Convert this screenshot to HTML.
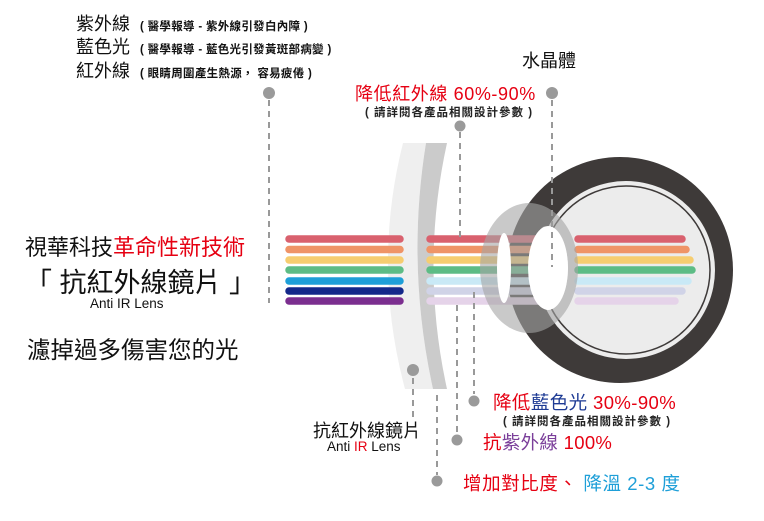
<!DOCTYPE html>
<html><head><meta charset="utf-8"><style>
html,body{margin:0;padding:0;background:#fff;}
svg{display:block;font-family:"Liberation Sans","Noto Sans CJK TC",sans-serif;}
</style></head><body>
<svg width="764" height="521" viewBox="0 0 764 521" xmlns="http://www.w3.org/2000/svg">
<!-- eye -->
<circle cx="620" cy="270" r="113" fill="#3e3a39"/>
<circle cx="626" cy="270" r="89" fill="#ececec"/>
<circle cx="626" cy="270" r="84" fill="none" stroke="#3e3a39" stroke-width="1.5"/>
<!-- lens -->
<path d="M403,143 L426,143 Q406,266 433,389 L405,389 Q372,266 403,143 Z" fill="#efefef"/>
<path d="M426,143 L447,143 Q420,266 447,389 L433,389 Q406,266 426,143 Z" fill="#cbcbcb"/>
<!-- bars -->
<g stroke-linecap="round" stroke-width="7.5">
<g stroke="#d9616e"><line x1="289" y1="239" x2="400" y2="239"/><line x1="430" y1="239" x2="540" y2="239"/><line x1="578" y1="239" x2="682" y2="239"/></g>
<g stroke="#ef9467"><line x1="289" y1="249.5" x2="400" y2="249.5"/><line x1="430" y1="249.5" x2="540" y2="249.5"/><line x1="578" y1="249.5" x2="686" y2="249.5"/></g>
<g stroke="#f6cd70"><line x1="289" y1="260" x2="400" y2="260"/><line x1="430" y1="260" x2="540" y2="260"/><line x1="578" y1="260" x2="690" y2="260"/></g>
<g stroke="#5dbc85"><line x1="289" y1="270" x2="400" y2="270"/><line x1="430" y1="270" x2="540" y2="270"/><line x1="578" y1="270" x2="692" y2="270"/></g>
<g stroke="#1e9fd8"><line x1="289" y1="281" x2="400" y2="281"/></g>
<g stroke="#c9e9f6"><line x1="430" y1="281" x2="540" y2="281"/><line x1="578" y1="281" x2="688" y2="281"/></g>
<g stroke="#14288a"><line x1="289" y1="291" x2="400" y2="291"/></g>
<g stroke="#d0d3e7"><line x1="430" y1="291" x2="540" y2="291"/><line x1="578" y1="291" x2="682" y2="291"/></g>
<g stroke="#7b2e8f"><line x1="289" y1="301" x2="400" y2="301"/></g>
<g stroke="#e5d3e9"><line x1="430" y1="301" x2="540" y2="301"/><line x1="578" y1="301" x2="675" y2="301"/></g>
</g>
<!-- crystalline ring -->
<path fill-rule="evenodd" fill="rgba(165,165,165,0.6)" d="M529,203 a49,65 0 1,0 0.1,0 Z M548,226 a20,42 0 1,1 -0.1,0 Z"/>
<ellipse cx="548" cy="268" rx="20" ry="42" fill="#fff"/>
<ellipse cx="504" cy="268" rx="7" ry="35" fill="#fff"/>
<!-- dashed lines -->
<g stroke="#999" stroke-width="2" stroke-dasharray="6 5" fill="none">
<line x1="269" y1="100" x2="269" y2="303"/>
<line x1="460" y1="132" x2="460" y2="237"/>
<line x1="552" y1="100" x2="552" y2="267"/>
<line x1="413" y1="378" x2="413" y2="418"/>
<line x1="437" y1="395" x2="437" y2="475"/>
<line x1="457" y1="305" x2="457" y2="434"/>
<line x1="474" y1="292" x2="474" y2="394"/>
</g>
<g fill="#9a9a9a">
<circle cx="269" cy="93" r="6"/><circle cx="460" cy="126" r="5.5"/><circle cx="552" cy="93" r="6"/>
<circle cx="413" cy="370" r="6"/><circle cx="437" cy="481" r="5.5"/><circle cx="457" cy="440" r="5.5"/><circle cx="474" cy="401" r="5.5"/>
</g>
<!-- top-left texts -->
<g fill="#111">
<text x="76" y="30" font-size="18">紫外線</text>
<text x="76" y="53" font-size="18">藍色光</text>
<text x="76" y="77" font-size="18">紅外線</text>
<text x="140" y="30" font-size="11.5" font-weight="bold" letter-spacing="0.3">( 醫學報導 - 紫外線引發白內障 )</text>
<text x="140" y="53" font-size="11.5" font-weight="bold" letter-spacing="0.3">( 醫學報導 - 藍色光引發黃斑部病變 )</text>
<text x="140" y="77" font-size="11.5" font-weight="bold" letter-spacing="0.3">( 眼睛周圍產生熱源， 容易疲倦 )</text>
<text x="522" y="67" font-size="18">水晶體</text>
</g>
<text x="355" y="100" font-size="18" letter-spacing="0.6" fill="#e60012">降低紅外線 60%-90%</text>
<text x="365" y="116" font-size="11.5" font-weight="bold" letter-spacing="1" fill="#222">( 請詳閱各產品相關設計參數 )</text>
<!-- left -->
<text x="25" y="255" font-size="22" fill="#111">視華科技<tspan fill="#e60012">革命性新技術</tspan></text>
<text x="25" y="292" font-size="27" fill="#111">「 抗紅外線鏡片 」</text>
<text x="90" y="308" font-size="13.5" fill="#111">Anti IR Lens</text>
<text x="27" y="358" font-size="23.5" fill="#111">濾掉過多傷害您的光</text>
<!-- bottom -->
<text x="313" y="437" font-size="18" fill="#111">抗紅外線鏡片</text>
<text x="327" y="451" font-size="13.5" fill="#111">Anti <tspan fill="#e60012">IR</tspan> Lens</text>
<text x="493" y="409" font-size="18.5" letter-spacing="0.4" fill="#e60012">降低<tspan fill="#1d3a94">藍色光</tspan> 30%-90%</text>
<text x="503" y="425" font-size="11.5" font-weight="bold" letter-spacing="1" fill="#222">( 請詳閱各產品相關設計參數 )</text>
<text x="483" y="449" font-size="18.5" letter-spacing="0.3" fill="#e60012">抗<tspan fill="#7b3f9a">紫外線</tspan> 100%</text>
<text x="463" y="490" font-size="18.5" letter-spacing="0.6" fill="#e60012">增加對比度、 <tspan fill="#1e9fd8">降溫 2-3 度</tspan></text>
</svg>
</body></html>
